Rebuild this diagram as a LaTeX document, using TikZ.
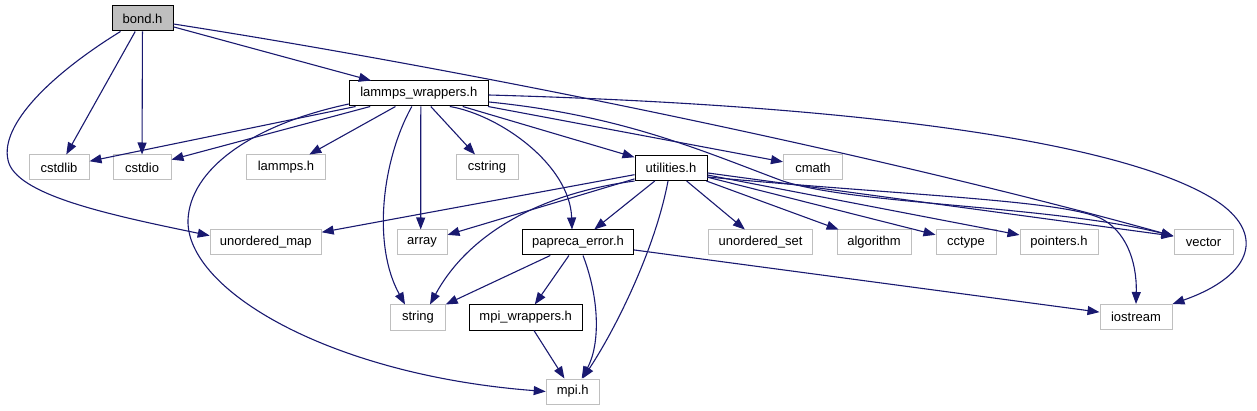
\documentclass[tikz,border=0pt]{standalone}
\usepackage{fontspec}
\setmainfont{Liberation Sans}
\usetikzlibrary{arrows.meta,calc}
\definecolor{edgec}{HTML}{191970}
\definecolor{sysb}{HTML}{BFBFBF}
\definecolor{bondfill}{HTML}{BFBFBF}
\begin{document}
\begin{tikzpicture}[x=1pt,y=-1pt,
  box/.style={draw,line width=1pt,inner sep=0pt,minimum height=25pt,font=\fontsize{13}{15}\selectfont},
  sys/.style={box,draw=sysb},
  loc/.style={box,draw=black},
  edge/.style={draw=edgec,line width=1.1pt,-{Triangle[length=12pt,width=9pt]}}]
\useasboundingbox (0,0) rectangle (1257,411);
% nodes
\node[loc,fill=bondfill,minimum width=61pt] (bond) at (142.5,18.5) {bond.h};
\node[loc,minimum width=139pt] (lw) at (418.8,93.5) {lammps\_wrappers.h};
\node[sys,minimum width=60pt] (cstdlib) at (59,167.5) {cstdlib};
\node[sys,minimum width=58pt] (cstdio) at (142,167.5) {cstdio};
\node[sys,minimum width=79pt] (lammpsh) at (286,167.5) {lammps.h};
\node[sys,minimum width=62pt] (cstring) at (487,167.5) {cstring};
\node[loc,minimum width=72pt] (util) at (671,168) {utilities.h};
\node[sys,minimum width=59pt] (cmath) at (813,167.5) {cmath};
\node[sys,minimum width=111pt] (umap) at (265.7,242.5) {unordered\_map};
\node[sys,minimum width=50pt] (array) at (422,242.5) {array};
\node[loc,minimum width=111pt] (papreca) at (578,242.5) {papreca\_error.h};
\node[sys,minimum width=104pt] (uset) at (760.5,242.5) {unordered\_set};
\node[sys,minimum width=74pt] (algorithm) at (874,242.5) {algorithm};
\node[sys,minimum width=60pt] (cctype) at (966,242.5) {cctype};
\node[sys,minimum width=78pt] (pointers) at (1059,242.5) {pointers.h};
\node[sys,minimum width=59pt] (vector) at (1203.5,242.5) {vector};
\node[sys,minimum width=55pt] (string) at (418,317.5) {string};
\node[loc,minimum width=113pt] (mpiw) at (525.7,317.5) {mpi\_wrappers.h};
\node[sys,minimum width=72pt] (iostream) at (1136,317) {iostream};
\node[sys,minimum width=53pt] (mpih) at (572.7,391.5) {mpi.h};
% bond.h
\draw[edge] (bond) -- (cstdlib);
\draw[edge] (bond) -- (cstdio);
\draw[edge] (bond) -- (lw);
\draw[edge] ([xshift=-22pt]bond.south) .. controls (50,75) and (0,125) .. (8,160) .. controls (15,195) and (110,215) .. (umap.173);
\draw[edge] ([yshift=-5.5pt]bond.east) .. controls (500,75) and (900,160) .. (vector.168);
% lammps_wrappers.h
\draw[edge] (lw) -- (cstdlib);
\draw[edge] (lw) -- (cstdio);
\draw[edge] (lw) -- (lammpsh);
\draw[edge] ([yshift=2.5pt]lw.south west) .. controls (250,125) and (190,170) .. (188,220) .. controls (186,290) and (330,375) .. (mpih.west);
\draw[edge] ([xshift=-7pt]lw.south) .. controls (382,160) and (372,245) .. ([xshift=-13pt]string.north);
\draw[edge] ([xshift=2pt]lw.south) -- ([xshift=-1.3pt]array.north);
\draw[edge] (lw) -- (cstring);
\draw[edge] ([xshift=31pt]lw.south) .. controls (500,115) and (570,165) .. ([xshift=-6pt]papreca.north);
\draw[edge] (lw) -- (util);
\draw[edge] (lw) -- (cmath);
\draw[edge] ([yshift=-8.5pt]lw.east) .. controls (620,115) and (700,150) .. (780,180) .. controls (850,205) and (1050,205) .. (vector.168);
\draw[edge] ([yshift=-1.5pt]lw.east) .. controls (850,105) and (1120,140) .. (1215,200) .. controls (1265,232) and (1255,275) .. (iostream.north east);
% utilities.h
\draw[edge] (util) -- (umap);
\draw[edge] (util) -- (array);
\draw[edge] (util.south west) .. controls (530,195) and (465,240) .. ([xshift=12pt]string.north);
\draw[edge] (util) -- (papreca);
\draw[edge] ([xshift=-3pt]util.south) .. controls (655,250) and (615,330) .. ([xshift=10pt]mpih.north);
\draw[edge] (util) -- (uset);
\draw[edge] (util) -- (algorithm);
\draw[edge] (util) -- (cctype);
\draw[edge] (util) -- (pointers);
\draw[edge] (util) -- (vector.168);
\draw[edge] ([yshift=-9pt]util.east) .. controls (900,195) and (1060,200) .. (1100,218) .. controls (1125,230) and (1137,260) .. (iostream.north);
% papreca_error.h
\draw[edge] (papreca) -- (string);
\draw[edge] (papreca) -- (mpiw);
\draw[edge] ([xshift=5pt]papreca.south) .. controls (600,300) and (600,345) .. ([xshift=9pt]mpih.north);
\draw[edge] (papreca) -- (iostream);
% mpi_wrappers.h
\draw[edge] (mpiw) -- (mpih);
\end{tikzpicture}
\end{document}
